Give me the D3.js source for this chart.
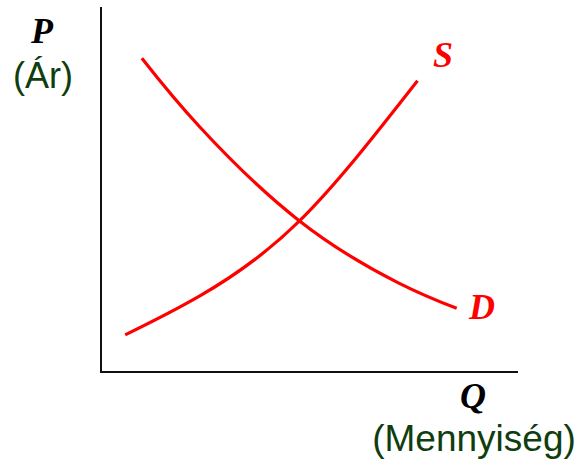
<!DOCTYPE html>
<html>
<head>
<meta charset="utf-8">
<script src="https://cdn.jsdelivr.net/npm/d3@7"></script>
<style>
  body { margin: 0; background: #fff; }
</style>
</head>
<body>
<script>
'use strict';

// demand curve (Q, P), arbitrary units 0-10
const demandQ = [0.98, 2.37, 4.76, 7.13, 8.53];
const demandP = [8.62, 6.73, 4.15, 2.45, 1.75];

// supply curve
const supplyQ = [0.58, 2.37, 4.76, 7.59];
const supplyP = [1.02, 2.09, 4.15, 8.00];

const axisLabels = { y: 'P', ySub: '(Ár)', x: 'Q', xSub: '(Mennyiség)' };
const curveLabels = ['S', 'D'];

const svg = d3.select('body').append('svg')
  .attr('width', 581)
  .attr('height', 469);

const xScale = d3.scaleLinear().domain([0, 10]).range([101, 518]);
const yScale = d3.scaleLinear().domain([0, 10]).range([372, 8]);

// axes as plain lines, no ticks
svg.append('line')
  .attr('x1', xScale(0)).attr('y1', yScale(0) + 1)
  .attr('x2', xScale(0)).attr('y2', yScale(10) - 1)
  .attr('stroke', '#111').attr('stroke-width', 2);
svg.append('line')
  .attr('x1', xScale(0) - 1).attr('y1', yScale(0))
  .attr('x2', xScale(10)).attr('y2', yScale(0))
  .attr('stroke', '#111').attr('stroke-width', 2);

const line = d3.line()
  .x(d => xScale(d[0]))
  .y(d => yScale(d[1]))
  .curve(d3.curveNatural);

const demand = d3.zip(demandQ, demandP);
const supply = d3.zip(supplyQ, supplyP);

[supply, demand].forEach(pts => {
  svg.append('path')
    .datum(pts)
    .attr('d', line)
    .attr('fill', 'none')
    .attr('stroke', '#ff0000')
    .attr('stroke-width', 3.2);
});

const serif = '"Liberation Serif", "DejaVu Serif", serif';
const sans = '"Liberation Sans", Arial, sans-serif';
const green = '#0f3d0f';

// curve labels
svg.append('text')
  .attr('x', 443).attr('y', 67)
  .attr('text-anchor', 'middle')
  .style('font', 'italic bold 36px ' + serif)
  .attr('fill', '#ff0000')
  .text(curveLabels[0]);
svg.append('text')
  .attr('x', 482).attr('y', 319)
  .attr('text-anchor', 'middle')
  .style('font', 'italic bold 36px ' + serif)
  .attr('fill', '#ff0000')
  .text(curveLabels[1]);

// axis labels
svg.append('text')
  .attr('x', 42).attr('y', 43)
  .attr('text-anchor', 'middle')
  .style('font', 'italic bold 36px ' + serif)
  .attr('fill', '#000')
  .text(axisLabels.y);
svg.append('text')
  .attr('x', 43).attr('y', 88)
  .attr('text-anchor', 'middle')
  .style('font', '36px ' + sans)
  .attr('fill', green)
  .text(axisLabels.ySub);

svg.append('text')
  .attr('x', 473).attr('y', 408)
  .attr('text-anchor', 'middle')
  .style('font', 'italic bold 36px ' + serif)
  .attr('fill', '#000')
  .text(axisLabels.x);
svg.append('text')
  .attr('x', 474).attr('y', 451)
  .attr('text-anchor', 'middle')
  .style('font', '37px ' + sans)
  .attr('fill', green)
  .text(axisLabels.xSub);
</script>
</body>
</html>
